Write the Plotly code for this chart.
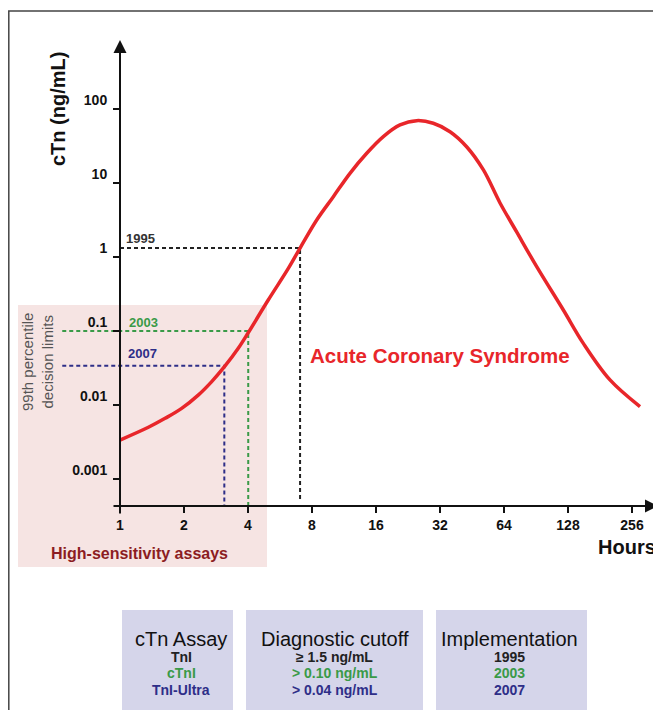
import math
import plotly.graph_objects as go

# ---------------- data ----------------
HOURS = [1.0, 1.36, 1.63, 1.95, 2.34, 2.70, 3.10, 3.60, 4.01, 4.98, 6.19, 7.03, 8.42,
         10.08, 12.07, 14.47, 17.32, 20.75, 24.86, 29.76, 35.66, 42.7, 51.2, 61.3,
         73.4, 91.2, 121.7, 151.1, 201.7, 279.2]
CTN = [0.00336, 0.0050, 0.0066, 0.0090, 0.0137, 0.0207, 0.0329, 0.0584, 0.0948, 0.262,
       0.70, 1.32, 3.16, 6.53, 13.5, 25.2, 42.3, 60.8, 69.5, 64.1, 49.3, 30.9, 15.0,
       5.37, 2.18, 0.74, 0.192, 0.068, 0.0218, 0.0095]

X_TICKS = [1, 2, 4, 8, 16, 32, 64, 128, 256]
X_TICK_LABELS = ["1", "2", "4", "8", "16", "32", "64", "128", "256"]
Y_TICKS = [0.001, 0.01, 0.1, 1, 10, 100]
Y_TICK_LABELS = ["0.001", "0.01", "0.1", "1", "10", "100"]

YEARS = ["1995", "2003", "2007"]
CUTOFF_LEVEL = [1.32, 0.1, 0.034]      # drawn decision level (ng/mL)
CROSS_HOURS = [7.03, 4.01, 3.095]      # hour where curve meets the level
LINE_START_HOURS = [1.0, 0.535, 0.535]
LINE_BOTTOM = [0.00052, 0.00043, 0.00043]

ASSAYS = ["TnI", "cTnI", "TnI-Ultra"]
CUTOFF_TEXT = ["≥ 1.5 ng/mL", "> 0.10 ng/mL", "> 0.04 ng/mL"]
HEADERS = ["cTn Assay", "Diagnostic cutoff", "Implementation"]

# ---------------- styles ----------------
OFF = 8                      # page body margin
W, H = 661 - OFF, 710 - OFF
PLOT_TOP, PLOT_BOTTOM = 40, 506   # page pixels
FONT = "Liberation Sans, Arial, sans-serif"
RED = "#e8262a"
GREEN = "#3a9a48"
NAVY = "#2e2e88"
DARK = "#222222"
ROW_COLORS = [DARK, GREEN, NAVY]
LAV = "#d5d5ea"
PINK = "#f6e4e3"

X_RANGE = [((OFF - 120) / 64) * math.log10(2), ((661 - 120) / 64) * math.log10(2)]
Y_RANGE = [-3.365, 2.932]


def px(x):
    return (x - OFF) / W


def py(y):
    return (PLOT_BOTTOM - y) / (PLOT_BOTTOM - PLOT_TOP)


fig = go.Figure()

# cutoff guide lines
for i in range(3):
    fig.add_trace(go.Scatter(
        x=[LINE_START_HOURS[i], CROSS_HOURS[i], CROSS_HOURS[i]],
        y=[CUTOFF_LEVEL[i], CUTOFF_LEVEL[i], LINE_BOTTOM[i]],
        mode="lines", line=dict(color=ROW_COLORS[i], width=2, dash="4px,3px"),
        hoverinfo="skip", showlegend=False))

# main curve
fig.add_trace(go.Scatter(
    x=HOURS, y=CTN, mode="lines",
    line=dict(color=RED, width=3.5, shape="spline", smoothing=1.0),
    showlegend=False))

shapes = [
    dict(type="rect", xref="paper", yref="paper", x0=px(18), x1=px(267),
         y0=py(567), y1=py(305), fillcolor=PINK, line=dict(width=0), layer="below"),
    dict(type="rect", xref="paper", yref="paper", x0=px(8.8), x1=px(700),
         y0=py(730), y1=py(11), line=dict(color="#444444", width=1.5),
         fillcolor="rgba(0,0,0,0)", layer="below"),
]
box_x = [(122, 233), (246, 423), (436, 587)]
for x0, x1 in box_x:
    shapes.append(dict(type="rect", xref="paper", yref="paper", x0=px(x0), x1=px(x1),
                       y0=py(720), y1=py(610), fillcolor=LAV, line=dict(width=0),
                       layer="below"))

annotations = []
annotations.append(dict(x=math.log10(2 ** (538 / 64)), y=Y_RANGE[0], ax=math.log10(0.917),
                        ay=Y_RANGE[0], xref="x", yref="y", axref="x", ayref="y",
                        text="", showarrow=True, arrowhead=2, arrowsize=1.3,
                        arrowwidth=2, arrowcolor="#111111", standoff=0))
annotations.append(dict(x=0, y=Y_RANGE[1], ax=0, ay=-3.486,
                        xref="x", yref="y", axref="x", ayref="y",
                        text="", showarrow=True, arrowhead=2, arrowsize=1.3,
                        arrowwidth=2, arrowcolor="#111111", standoff=0))


def txt(x, y, s, size, color=DARK, bold=True, xanchor="center", angle=0):
    t = f"<b>{s}</b>" if bold else s
    annotations.append(dict(x=px(x), y=py(y), xref="paper", yref="paper", text=t,
                            showarrow=False, xanchor=xanchor, yanchor="middle",
                            textangle=angle,
                            font=dict(family=FONT, size=size, color=color)))


txt(58, 109, "cTn (ng/mL)", 20, "#111111", angle=-90)
txt(37, 362, "99th percentile<br>decision limits", 15, "#555555", bold=False, angle=-90)
txt(658, 547, "Hours", 20, "#111111", xanchor="right")
txt(308, 355, "Acute Coronary Syndrome", 20.5, RED, xanchor="left")
txt(139, 553, "High-sensitivity assays", 16, "#8c1c22")

year_pos = [(124, 239), (127, 322), (126, 353)]
for (x, y), yr, c in zip(year_pos, YEARS, ROW_COLORS):
    txt(x, y, yr, 13, "#333333" if c == DARK else c, xanchor="left")

centers = [181, 335, 510]
cols = [ASSAYS, CUTOFF_TEXT, YEARS]
for cx, head, col in zip(centers, HEADERS, cols):
    txt(cx, 639, head, 20, "#111111", bold=False)
    for j, (val, c) in enumerate(zip(col, ROW_COLORS)):
        txt(cx, [657, 673, 690][j], val, 14, c)

fig.update_layout(
    width=W, height=H,
    margin=dict(l=0, r=0, t=PLOT_TOP - OFF, b=710 - PLOT_BOTTOM, pad=0),
    paper_bgcolor="white", plot_bgcolor="rgba(0,0,0,0)",
    shapes=shapes, annotations=annotations,
    xaxis=dict(type="log", range=X_RANGE, showgrid=False, zeroline=False, showline=False,
               tickvals=X_TICKS, ticktext=X_TICK_LABELS, ticks="outside", ticklen=6,
               tickwidth=1.5, tickcolor="#111111",
               tickfont=dict(family=FONT, size=14, color="#111111", weight="bold"),
               fixedrange=True),
    yaxis=dict(type="log", range=Y_RANGE, showgrid=False, zeroline=False, showline=False,
               anchor="free", position=(120 - OFF) / W,
               tickvals=Y_TICKS, ticktext=Y_TICK_LABELS, ticks="outside", ticklen=7,
               tickwidth=1.5, tickcolor="#111111", ticklabelshift=-9, ticklabelstandoff=3,
               tickfont=dict(family=FONT, size=14, color="#111111", weight="bold"),
               fixedrange=True),
)

fig.write_html(
    "out.html",
    post_script="document.documentElement.style.overflow='hidden';"
                "document.body.style.overflow='hidden';",
)
